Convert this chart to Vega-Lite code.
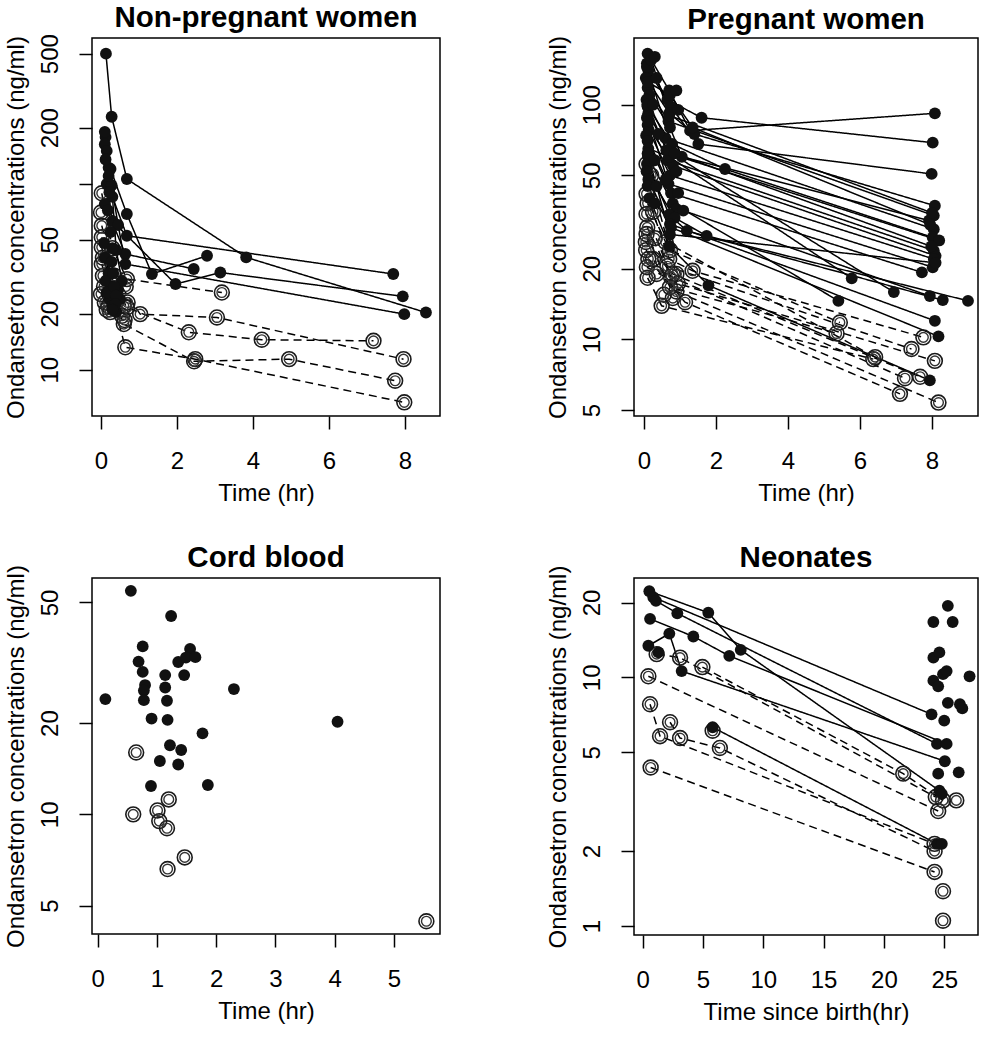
{
  "$schema": "https://vega.github.io/schema/vega-lite/v6.json",
  "background": "white",
  "padding": {"left": 3, "top": 2, "right": 2, "bottom": 2},
  "datasets": {
    "P1": [
      {"id":"A1","t":0.13,"c":500,"g":"A"},{"id":"A1","t":0.28,"c":229,"g":"A"},{"id":"A1","t":0.68,"c":106,"g":"A"},{"id":"A1","t":3.82,"c":40.2,"g":"A"},{"id":"A1","t":8.55,"c":20.3,"g":"A"},
      {"id":"A2","t":0.12,"c":178,"g":"A"},{"id":"A2","t":0.25,"c":120,"g":"A"},{"id":"A2","t":0.68,"c":68.7,"g":"A"},{"id":"A2","t":1.34,"c":32.7,"g":"A"},{"id":"A2","t":2.79,"c":41.0,"g":"A"},
      {"id":"A3","t":0.1,"c":163,"g":"A"},{"id":"A3","t":0.3,"c":85,"g":"A"},{"id":"A3","t":0.68,"c":52.5,"g":"A"},{"id":"A3","t":7.69,"c":32.7,"g":"A"},
      {"id":"A4","t":0.15,"c":99.6,"g":"A"},{"id":"A4","t":0.3,"c":63,"g":"A"},{"id":"A4","t":1.96,"c":28.9,"g":"A"},{"id":"A4","t":3.14,"c":33.3,"g":"A"},{"id":"A4","t":7.94,"c":24.8,"g":"A"},
      {"id":"A5","t":0.1,"c":77.8,"g":"A"},{"id":"A5","t":0.64,"c":41.9,"g":"A"},{"id":"A5","t":2.44,"c":34.8,"g":"A"},
      {"id":"A6","t":0.2,"c":122,"g":"A"},{"id":"A6","t":0.45,"c":60,"g":"A"},{"id":"A6","t":0.64,"c":37.0,"g":"A"},{"id":"A6","t":7.98,"c":19.9,"g":"A"},
      {"id":"A7","t":0.08,"c":48,"g":"A"},{"id":"A7","t":0.2,"c":33,"g":"A"},{"id":"A7","t":0.45,"c":27,"g":"A"},
      {"id":"A8","t":0.1,"c":40,"g":"A"},{"id":"A8","t":0.25,"c":28,"g":"A"},{"id":"A8","t":0.5,"c":24,"g":"A"},
      {"id":"A9","t":0.12,"c":30,"g":"A"},{"id":"A9","t":0.22,"c":24,"g":"A"},{"id":"A9","t":0.35,"c":21.5,"g":"A"},
      {"id":"A10","t":0.15,"c":26,"g":"A"},{"id":"A10","t":0.3,"c":22,"g":"A"},{"id":"A10","t":0.4,"c":20.5,"g":"A"},
      {"id":"A11","t":0.28,"c":98,"g":"A"},{"id":"A11","t":0.4,"c":44,"g":"A"},{"id":"A11","t":0.55,"c":30,"g":"A"},
      {"id":"A12","t":0.1,"c":190,"g":"A"},{"id":"A13","t":0.15,"c":150,"g":"A"},{"id":"A14","t":0.12,"c":135,"g":"A"},
      {"id":"A15","t":0.2,"c":110,"g":"A"},{"id":"A16","t":0.22,"c":90,"g":"A"},{"id":"A17","t":0.18,"c":72,"g":"A"},
      {"id":"A18","t":0.25,"c":55,"g":"A"},{"id":"A19","t":0.3,"c":45,"g":"A"},{"id":"A20","t":0.28,"c":38,"g":"A"},
      {"id":"A21","t":0.32,"c":33,"g":"A"},{"id":"A22","t":0.35,"c":28,"g":"A"},{"id":"A23","t":0.4,"c":25,"g":"A"},
      {"id":"A24","t":0.38,"c":22.5,"g":"A"},{"id":"A25","t":0.3,"c":21,"g":"A"},
      {"id":"B1","t":0.02,"c":88.8,"g":"B"},{"id":"B1","t":0.3,"c":45,"g":"B"},{"id":"B1","t":0.68,"c":30.7,"g":"B"},{"id":"B1","t":3.18,"c":26.0,"g":"B"},
      {"id":"B2","t":0.02,"c":59.5,"g":"B"},{"id":"B2","t":0.35,"c":32,"g":"B"},{"id":"B2","t":1.03,"c":19.9,"g":"B"},{"id":"B2","t":3.05,"c":19.1,"g":"B"},{"id":"B2","t":7.96,"c":11.4,"g":"B"},
      {"id":"B3","t":0.02,"c":51.5,"g":"B"},{"id":"B3","t":0.3,"c":30,"g":"B"},{"id":"B3","t":0.68,"c":21.6,"g":"B"},{"id":"B3","t":2.31,"c":15.9,"g":"B"},{"id":"B3","t":4.23,"c":14.5,"g":"B"},{"id":"B3","t":7.17,"c":14.3,"g":"B"},
      {"id":"B4","t":0.02,"c":45.5,"g":"B"},{"id":"B4","t":0.25,"c":26,"g":"B"},{"id":"B4","t":0.64,"c":13.2,"g":"B"},{"id":"B4","t":2.48,"c":11.4,"g":"B"},{"id":"B4","t":7.98,"c":6.68,"g":"B"},
      {"id":"B5","t":0.02,"c":37,"g":"B"},{"id":"B5","t":0.3,"c":24,"g":"B"},{"id":"B5","t":0.6,"c":17.6,"g":"B"},{"id":"B5","t":2.45,"c":11.1,"g":"B"},{"id":"B5","t":4.95,"c":11.4,"g":"B"},{"id":"B5","t":7.74,"c":8.73,"g":"B"},
      {"id":"B6","t":0.0,"c":25.5,"g":"B"},{"id":"B6","t":0.24,"c":20.4,"g":"B"},{"id":"B6","t":0.62,"c":18.5,"g":"B"},
      {"id":"B7","t":0.05,"c":32,"g":"B"},{"id":"B7","t":0.2,"c":22,"g":"B"},{"id":"B7","t":0.7,"c":23,"g":"B"},
      {"id":"B8","t":0.0,"c":70,"g":"B"},{"id":"B9","t":0.05,"c":40,"g":"B"},{"id":"B10","t":0.08,"c":28,"g":"B"},
      {"id":"B11","t":0.1,"c":23,"g":"B"},{"id":"B12","t":0.15,"c":21,"g":"B"},{"id":"B13","t":0.6,"c":22,"g":"B"},
      {"id":"B14","t":0.65,"c":28,"g":"B"},{"id":"B15","t":0.55,"c":19.5,"g":"B"}
    ],
    "P2": [
      {"id":"a1","t":0.1,"c":165,"g":"A"},{"id":"a1","t":0.7,"c":115,"g":"A"},{"id":"a1","t":1.28,"c":77.5,"g":"A"},{"id":"a1","t":8.08,"c":91.9,"g":"A"},
      {"id":"a2","t":0.08,"c":150,"g":"A"},{"id":"a2","t":0.65,"c":105,"g":"A"},{"id":"a2","t":1.6,"c":88,"g":"A"},{"id":"a2","t":8.02,"c":68.9,"g":"A"},
      {"id":"a3","t":0.12,"c":140,"g":"A"},{"id":"a3","t":0.75,"c":98,"g":"A"},{"id":"a3","t":1.51,"c":68,"g":"A"},{"id":"a3","t":7.99,"c":50.7,"g":"A"},
      {"id":"a4","t":0.05,"c":130,"g":"A"},{"id":"a4","t":0.7,"c":92,"g":"A"},{"id":"a4","t":1.4,"c":75,"g":"A"},{"id":"a4","t":8.08,"c":37.1,"g":"A"},
      {"id":"a5","t":0.1,"c":118,"g":"A"},{"id":"a5","t":0.68,"c":85,"g":"A"},{"id":"a5","t":8.05,"c":33.7,"g":"A"},
      {"id":"a6","t":0.15,"c":110,"g":"A"},{"id":"a6","t":0.72,"c":80,"g":"A"},{"id":"a6","t":1.05,"c":60,"g":"A"},{"id":"a6","t":7.92,"c":32.1,"g":"A"},
      {"id":"a7","t":0.07,"c":105,"g":"A"},{"id":"a7","t":0.6,"c":72,"g":"A"},{"id":"a7","t":8.05,"c":29.5,"g":"A"},
      {"id":"a8","t":0.1,"c":98,"g":"A"},{"id":"a8","t":0.78,"c":68,"g":"A"},{"id":"a8","t":2.25,"c":53.2,"g":"A"},{"id":"a8","t":8.02,"c":27.2,"g":"A"},
      {"id":"a9","t":0.12,"c":92,"g":"A"},{"id":"a9","t":0.7,"c":62,"g":"A"},{"id":"a9","t":8.2,"c":26.4,"g":"A"},
      {"id":"a10","t":0.08,"c":88,"g":"A"},{"id":"a10","t":0.65,"c":58,"g":"A"},{"id":"a10","t":8.05,"c":23.9,"g":"A"},
      {"id":"a11","t":0.1,"c":82,"g":"A"},{"id":"a11","t":0.8,"c":55,"g":"A"},{"id":"a11","t":8.1,"c":22.7,"g":"A"},
      {"id":"a12","t":0.13,"c":78,"g":"A"},{"id":"a12","t":0.72,"c":50,"g":"A"},{"id":"a12","t":8.05,"c":22.0,"g":"A"},
      {"id":"a13","t":0.06,"c":74,"g":"A"},{"id":"a13","t":0.68,"c":46,"g":"A"},{"id":"a13","t":8.02,"c":20.3,"g":"A"},
      {"id":"a14","t":0.1,"c":70,"g":"A"},{"id":"a14","t":0.75,"c":42,"g":"A"},{"id":"a14","t":7.72,"c":19.3,"g":"A"},
      {"id":"a15","t":0.12,"c":65,"g":"A"},{"id":"a15","t":0.7,"c":60,"g":"A"},{"id":"a15","t":5.77,"c":18.2,"g":"A"},
      {"id":"a16","t":0.09,"c":100,"g":"A"},{"id":"a16","t":0.62,"c":64,"g":"A"},{"id":"a16","t":6.94,"c":15.9,"g":"A"},
      {"id":"a17","t":0.11,"c":60,"g":"A"},{"id":"a17","t":0.8,"c":38,"g":"A"},{"id":"a17","t":5.4,"c":14.6,"g":"A"},
      {"id":"a18","t":0.14,"c":85,"g":"A"},{"id":"a18","t":0.9,"c":36,"g":"A"},{"id":"a18","t":1.09,"c":35.4,"g":"A"},{"id":"a18","t":7.94,"c":15.3,"g":"A"},
      {"id":"a19","t":0.1,"c":56,"g":"A"},{"id":"a19","t":0.7,"c":34,"g":"A"},{"id":"a19","t":1.19,"c":29,"g":"A"},{"id":"a19","t":8.3,"c":14.7,"g":"A"},
      {"id":"a20","t":0.07,"c":52,"g":"A"},{"id":"a20","t":0.85,"c":33,"g":"A"},{"id":"a20","t":1.74,"c":27.6,"g":"A"},{"id":"a20","t":9.0,"c":14.6,"g":"A"},
      {"id":"a21","t":0.12,"c":48,"g":"A"},{"id":"a21","t":0.72,"c":31,"g":"A"},{"id":"a21","t":8.08,"c":12.0,"g":"A"},
      {"id":"a22","t":0.1,"c":45,"g":"A"},{"id":"a22","t":0.75,"c":30,"g":"A"},{"id":"a22","t":8.18,"c":10.3,"g":"A"},
      {"id":"a23","t":0.15,"c":40,"g":"A"},{"id":"a23","t":0.7,"c":25,"g":"A"},{"id":"a23","t":1.79,"c":17.0,"g":"A"},{"id":"a23","t":7.94,"c":6.69,"g":"A"},
      {"id":"a24","t":0.1,"c":125,"g":"A"},{"id":"a24","t":0.72,"c":110,"g":"A"},{"id":"a24","t":1.35,"c":80,"g":"A"},{"id":"a24","t":7.95,"c":30.8,"g":"A"},
      {"id":"a25","t":0.08,"c":145,"g":"A"},{"id":"a25","t":0.85,"c":62,"g":"A"},{"id":"a25","t":7.98,"c":24.9,"g":"A"},
      {"id":"a26","t":0.2,"c":155,"g":"A"},{"id":"a26","t":0.7,"c":90,"g":"A"},{"id":"a26","t":8.0,"c":34.6,"g":"A"},
      {"id":"a27","t":0.1,"c":62,"g":"A"},{"id":"a27","t":0.72,"c":28,"g":"A"},{"id":"a27","t":8.1,"c":21.2,"g":"A"},
      {"id":"a28","t":0.3,"c":160,"g":"A"},{"id":"a29","t":0.35,"c":130,"g":"A"},{"id":"a30","t":0.25,"c":100,"g":"A"},
      {"id":"a31","t":0.4,"c":75,"g":"A"},{"id":"a32","t":0.3,"c":58,"g":"A"},{"id":"a33","t":0.35,"c":45,"g":"A"},
      {"id":"a34","t":0.3,"c":38,"g":"A"},{"id":"a35","t":0.9,"c":115,"g":"A"},{"id":"a36","t":0.95,"c":95,"g":"A"},
      {"id":"a37","t":0.6,"c":48,"g":"A"},{"id":"a38","t":0.9,"c":52,"g":"A"},{"id":"a39","t":0.95,"c":42,"g":"A"},
      {"id":"b1","t":0.07,"c":55.9,"g":"B"},{"id":"b1","t":0.72,"c":24,"g":"B"},{"id":"b1","t":5.44,"c":11.8,"g":"B"},
      {"id":"b2","t":0.07,"c":41.7,"g":"B"},{"id":"b2","t":0.7,"c":22,"g":"B"},{"id":"b2","t":1.35,"c":19.6,"g":"B"},{"id":"b2","t":7.76,"c":10.2,"g":"B"},
      {"id":"b3","t":0.07,"c":34.2,"g":"B"},{"id":"b3","t":0.65,"c":20.5,"g":"B"},{"id":"b3","t":7.43,"c":9.1,"g":"B"},
      {"id":"b4","t":0.07,"c":28.1,"g":"B"},{"id":"b4","t":0.72,"c":16.7,"g":"B"},{"id":"b4","t":5.35,"c":10.6,"g":"B"},
      {"id":"b5","t":0.08,"c":20.3,"g":"B"},{"id":"b5","t":0.94,"c":17.3,"g":"B"},{"id":"b5","t":8.08,"c":8.1,"g":"B"},
      {"id":"b6","t":0.1,"c":18.3,"g":"B"},{"id":"b6","t":0.49,"c":13.9,"g":"B"},{"id":"b6","t":6.37,"c":8.24,"g":"B"},
      {"id":"b7","t":0.05,"c":26,"g":"B"},{"id":"b7","t":0.8,"c":19,"g":"B"},{"id":"b7","t":7.67,"c":6.93,"g":"B"},
      {"id":"b8","t":0.12,"c":22,"g":"B"},{"id":"b8","t":1.14,"c":14.4,"g":"B"},{"id":"b8","t":7.11,"c":5.86,"g":"B"},
      {"id":"b9","t":0.09,"c":30,"g":"B"},{"id":"b9","t":0.75,"c":18.5,"g":"B"},{"id":"b9","t":7.25,"c":6.83,"g":"B"},
      {"id":"b10","t":0.06,"c":24,"g":"B"},{"id":"b10","t":0.9,"c":16,"g":"B"},{"id":"b10","t":8.18,"c":5.38,"g":"B"},
      {"id":"b11","t":0.1,"c":38,"g":"B"},{"id":"b11","t":0.6,"c":26,"g":"B"},{"id":"b11","t":6.42,"c":8.4,"g":"B"},
      {"id":"b12","t":0.2,"c":50,"g":"B"},{"id":"b13","t":0.25,"c":35,"g":"B"},{"id":"b14","t":0.3,"c":27,"g":"B"},
      {"id":"b15","t":0.25,"c":22,"g":"B"},{"id":"b16","t":0.35,"c":19,"g":"B"},{"id":"b17","t":0.9,"c":19,"g":"B"},
      {"id":"b18","t":0.8,"c":15,"g":"B"},{"id":"b19","t":0.55,"c":15.5,"g":"B"}
    ],
    "P3": [
      {"t":0.56,"c":54.6,"g":"A"},{"t":1.24,"c":45.1,"g":"A"},{"t":0.76,"c":35.8,"g":"A"},{"t":0.69,"c":31.9,"g":"A"},{"t":0.76,"c":29.5,"g":"A"},
      {"t":0.8,"c":26.7,"g":"A"},{"t":0.78,"c":25.6,"g":"A"},{"t":0.78,"c":23.8,"g":"A"},{"t":0.13,"c":24.0,"g":"A"},{"t":1.14,"c":28.8,"g":"A"},
      {"t":1.14,"c":26.2,"g":"A"},{"t":1.17,"c":23.7,"g":"A"},{"t":1.36,"c":31.8,"g":"A"},{"t":1.46,"c":28.8,"g":"A"},{"t":1.56,"c":35.1,"g":"A"},
      {"t":1.49,"c":32.9,"g":"A"},{"t":1.65,"c":33.0,"g":"A"},{"t":0.91,"c":20.7,"g":"A"},{"t":1.18,"c":20.5,"g":"A"},{"t":2.3,"c":25.9,"g":"A"},
      {"t":4.05,"c":20.2,"g":"A"},{"t":1.77,"c":18.5,"g":"A"},{"t":1.22,"c":16.9,"g":"A"},{"t":1.41,"c":16.3,"g":"A"},{"t":1.05,"c":15.0,"g":"A"},
      {"t":1.36,"c":14.6,"g":"A"},{"t":0.9,"c":12.4,"g":"A"},{"t":1.86,"c":12.5,"g":"A"},
      {"t":0.65,"c":16.0,"g":"B"},{"t":0.6,"c":10.0,"g":"B"},{"t":1.01,"c":10.3,"g":"B"},{"t":1.04,"c":9.5,"g":"B"},{"t":1.2,"c":11.2,"g":"B"},
      {"t":1.17,"c":9.0,"g":"B"},{"t":1.47,"c":7.21,"g":"B"},{"t":1.18,"c":6.6,"g":"B"},{"t":5.55,"c":4.44,"g":"B"}
    ],
    "P4": [
      {"id":"N1","t":0.55,"c":22.2,"g":"A"},{"id":"N1","t":5.44,"c":18.2,"g":"A"},{"id":"N1","t":8.13,"c":12.9,"g":"A"},{"id":"N1","t":24.6,"c":3.5,"g":"A"},
      {"id":"N2","t":0.88,"c":21.0,"g":"A"},{"id":"N2","t":23.95,"c":7.1,"g":"A"},
      {"id":"N3","t":1.1,"c":20.3,"g":"A"},{"id":"N3","t":2.87,"c":18.1,"g":"A"},{"id":"N3","t":24.4,"c":5.4,"g":"A"},
      {"id":"N4","t":0.61,"c":17.2,"g":"A"},{"id":"N4","t":4.2,"c":14.6,"g":"A"},{"id":"N4","t":7.18,"c":12.2,"g":"A"},{"id":"N4","t":25.2,"c":5.4,"g":"A"},
      {"id":"N5","t":0.47,"c":13.4,"g":"A"},{"id":"N5","t":2.21,"c":15.0,"g":"A"},{"id":"N5","t":3.23,"c":10.6,"g":"A"},{"id":"N5","t":25.05,"c":4.6,"g":"A"},
      {"id":"N6","t":5.8,"c":6.3,"g":"A"},{"id":"N6","t":24.4,"c":2.14,"g":"A"},
      {"id":"S1","t":25.3,"c":19.4,"g":"A"},{"id":"S2","t":24.1,"c":16.7,"g":"A"},{"id":"S3","t":25.7,"c":16.7,"g":"A"},
      {"id":"S4","t":24.1,"c":12.0,"g":"A"},{"id":"S5","t":24.6,"c":12.6,"g":"A"},{"id":"S6","t":24.1,"c":9.7,"g":"A"},
      {"id":"S7","t":24.5,"c":9.2,"g":"A"},{"id":"S8","t":24.9,"c":10.3,"g":"A"},{"id":"S9","t":25.2,"c":10.6,"g":"A"},
      {"id":"S10","t":27.1,"c":10.1,"g":"A"},{"id":"S11","t":25.3,"c":7.9,"g":"A"},{"id":"S12","t":26.3,"c":7.8,"g":"A"},
      {"id":"S13","t":26.5,"c":7.5,"g":"A"},{"id":"S14","t":25.0,"c":6.7,"g":"A"},{"id":"S15","t":24.5,"c":4.1,"g":"A"},
      {"id":"S16","t":26.2,"c":4.15,"g":"A"},{"id":"S17","t":24.8,"c":2.14,"g":"A"},{"id":"S18","t":24.8,"c":3.4,"g":"A"},
      {"id":"S19","t":1.3,"c":12.6,"g":"A"},
      {"id":"M1","t":1.16,"c":12.4,"g":"B"},{"id":"M1","t":3.1,"c":12.0,"g":"B"},{"id":"M1","t":24.3,"c":3.3,"g":"B"},
      {"id":"M2","t":4.95,"c":11.0,"g":"B"},{"id":"M2","t":21.6,"c":4.1,"g":"B"},{"id":"M2","t":24.9,"c":3.2,"g":"B"},
      {"id":"M3","t":0.47,"c":10.1,"g":"B"},{"id":"M3","t":24.5,"c":2.9,"g":"B"},
      {"id":"M4","t":0.61,"c":7.8,"g":"B"},{"id":"M4","t":1.44,"c":5.8,"g":"B"},{"id":"M4","t":24.2,"c":2.14,"g":"B"},
      {"id":"M5","t":2.27,"c":6.6,"g":"B"},{"id":"M5","t":3.1,"c":5.7,"g":"B"},{"id":"M5","t":6.4,"c":5.2,"g":"B"},{"id":"M5","t":24.2,"c":2.0,"g":"B"},
      {"id":"M6","t":0.66,"c":4.34,"g":"B"},{"id":"M6","t":24.2,"c":1.65,"g":"B"},
      {"id":"M7","t":26.0,"c":3.2,"g":"B"},{"id":"M8","t":24.9,"c":1.38,"g":"B"},{"id":"M9","t":24.9,"c":1.05,"g":"B"},{"id":"M10","t":5.8,"c":6.1,"g":"B"}
    ]
  },
  "columns": 2,
  "bounds": "flush",
  "spacing": {"row": 162, "column": 194},
  "concat": [
    {
      "width": 348, "height": 378,
      "title": {"text": "Non-pregnant women", "offset": 0},
      "data": {"name": "P1"},
      "encoding": {
        "x": {"field": "t", "type": "quantitative", "scale": {"domain": [-0.237, 8.92], "nice": false, "zero": false}, "axis": {"values": [0, 2, 4, 6, 8], "title": "Time (hr)"}},
        "y": {"field": "c", "type": "quantitative", "scale": {"type": "log", "domain": [5.64, 607], "nice": false, "zero": false}, "axis": {"values": [10, 20, 50, 100, 200, 500], "labelExpr": "datum.value == 100 ? '' : datum.label", "title": "Ondansetron concentrations (ng/ml)"}}
      },
      "layer": [
        {"mark": {"type": "line", "color": "black", "strokeWidth": 1.5}, "encoding": {"detail": {"field": "id"}, "strokeDash": {"field": "g", "type": "nominal", "scale": {"domain": ["A", "B"], "range": [[1, 0], [8, 5]]}, "legend": null}}},
        {"transform": [{"filter": "datum.g == 'B'"}], "mark": {"type": "point", "shape": "circle", "filled": false, "size": 220, "strokeWidth": 1.6, "color": "#1a1a1a", "opacity": 1}},
        {"transform": [{"filter": "datum.g == 'B'"}], "mark": {"type": "point", "shape": "circle", "filled": false, "size": 95, "strokeWidth": 1.4, "color": "#333333", "opacity": 1}},
        {"transform": [{"filter": "datum.g == 'A'"}], "mark": {"type": "point", "shape": "circle", "filled": true, "size": 140, "color": "#111111", "opacity": 1}}
      ]
    },
    {
      "width": 344, "height": 378,
      "title": {"text": "Pregnant women", "offset": 0},
      "data": {"name": "P2"},
      "encoding": {
        "x": {"field": "t", "type": "quantitative", "scale": {"domain": [-0.278, 9.278], "nice": false, "zero": false}, "axis": {"values": [0, 2, 4, 6, 8], "title": "Time (hr)"}},
        "y": {"field": "c", "type": "quantitative", "scale": {"type": "log", "domain": [4.716, 192.4], "nice": false, "zero": false}, "axis": {"values": [5, 10, 20, 50, 100], "title": "Ondansetron concentrations (ng/ml)"}}
      },
      "layer": [
        {"mark": {"type": "line", "color": "black", "strokeWidth": 1.5}, "encoding": {"detail": {"field": "id"}, "strokeDash": {"field": "g", "type": "nominal", "scale": {"domain": ["A", "B"], "range": [[1, 0], [8, 5]]}, "legend": null}}},
        {"transform": [{"filter": "datum.g == 'B'"}], "mark": {"type": "point", "shape": "circle", "filled": false, "size": 220, "strokeWidth": 1.6, "color": "#1a1a1a", "opacity": 1}},
        {"transform": [{"filter": "datum.g == 'B'"}], "mark": {"type": "point", "shape": "circle", "filled": false, "size": 95, "strokeWidth": 1.4, "color": "#333333", "opacity": 1}},
        {"transform": [{"filter": "datum.g == 'A'"}], "mark": {"type": "point", "shape": "circle", "filled": true, "size": 140, "color": "#111111", "opacity": 1}}
      ]
    },
    {
      "width": 348, "height": 356,
      "title": {"text": "Cord blood", "offset": -9},
      "data": {"name": "P3"},
      "encoding": {
        "x": {"field": "t", "type": "quantitative", "scale": {"domain": [-0.096, 5.78], "nice": false, "zero": false}, "axis": {"values": [0, 1, 2, 3, 4, 5], "title": "Time (hr)"}},
        "y": {"field": "c", "type": "quantitative", "scale": {"type": "log", "domain": [4.03, 60.2], "nice": false, "zero": false}, "axis": {"values": [5, 10, 20, 50], "title": "Ondansetron concentrations (ng/ml)"}}
      },
      "layer": [
        {"transform": [{"filter": "datum.g == 'B'"}], "mark": {"type": "point", "shape": "circle", "filled": false, "size": 220, "strokeWidth": 1.6, "color": "#1a1a1a", "opacity": 1}},
        {"transform": [{"filter": "datum.g == 'B'"}], "mark": {"type": "point", "shape": "circle", "filled": false, "size": 95, "strokeWidth": 1.4, "color": "#333333", "opacity": 1}},
        {"transform": [{"filter": "datum.g == 'A'"}], "mark": {"type": "point", "shape": "circle", "filled": true, "size": 140, "color": "#111111", "opacity": 1}}
      ]
    },
    {
      "width": 344, "height": 357,
      "title": {"text": "Neonates", "offset": -8.5},
      "data": {"name": "P4"},
      "encoding": {
        "x": {"field": "t", "type": "quantitative", "scale": {"domain": [-0.72, 27.8], "nice": false, "zero": false}, "axis": {"values": [0, 5, 10, 15, 20, 25], "title": "Time since birth(hr)"}},
        "y": {"field": "c", "type": "quantitative", "scale": {"type": "log", "domain": [0.92, 25.1], "nice": false, "zero": false}, "axis": {"values": [1, 2, 5, 10, 20], "title": "Ondansetron concentrations (ng/ml)"}}
      },
      "layer": [
        {"mark": {"type": "line", "color": "black", "strokeWidth": 1.5}, "encoding": {"detail": {"field": "id"}, "strokeDash": {"field": "g", "type": "nominal", "scale": {"domain": ["A", "B"], "range": [[1, 0], [8, 5]]}, "legend": null}}},
        {"transform": [{"filter": "datum.g == 'B'"}], "mark": {"type": "point", "shape": "circle", "filled": false, "size": 220, "strokeWidth": 1.6, "color": "#1a1a1a", "opacity": 1}},
        {"transform": [{"filter": "datum.g == 'B'"}], "mark": {"type": "point", "shape": "circle", "filled": false, "size": 95, "strokeWidth": 1.4, "color": "#333333", "opacity": 1}},
        {"transform": [{"filter": "datum.g == 'A'"}], "mark": {"type": "point", "shape": "circle", "filled": true, "size": 140, "color": "#111111", "opacity": 1}}
      ]
    }
  ],
  "resolve": {"scale": {"x": "independent", "y": "independent", "strokeDash": "independent"}},
  "config": {
    "view": {"stroke": "black", "strokeWidth": 1.5},
    "font": "Liberation Sans",
    "title": {"font": "Liberation Sans", "fontSize": 29.5, "fontWeight": "bold", "color": "black", "anchor": "middle", "frame": "group", "baseline": "alphabetic"},
    "axis": {
      "labelFont": "Liberation Sans", "labelFontSize": 24, "labelColor": "black",
      "titleFont": "Liberation Sans", "titleFontSize": 24, "titleFontWeight": "normal", "titleColor": "black",
      "tickColor": "black", "tickWidth": 1.5, "tickSize": 13, "domain": false, "grid": false,
      "labelOverlap": false, "labelFlush": false, "format": "d"
    },
    "axisX": {"labelAngle": 0, "labelPadding": 20, "titlePadding": 8},
    "axisY": {"labelAngle": -90, "labelAlign": "center", "labelBaseline": "alphabetic", "labelPadding": 22, "titlePadding": 10}
  }
}
